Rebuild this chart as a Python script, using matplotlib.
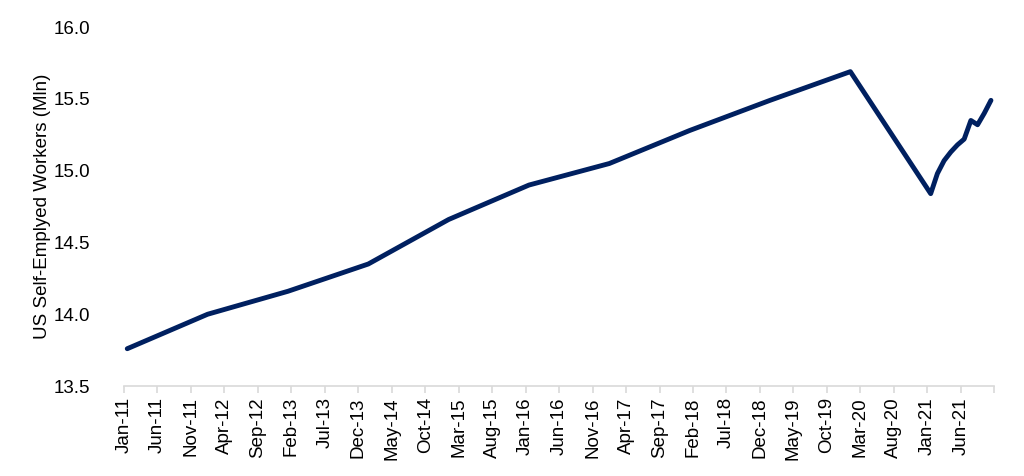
import matplotlib
matplotlib.use("Agg")
import matplotlib.pyplot as plt
import numpy as np

plt.rcParams['font.family'] = ['Liberation Sans', 'DejaVu Sans']

# month index from Jan-11 (0) and self-employed workers (mln)
months = [0, 12, 24, 36, 48, 60, 72, 84, 96, 108,
          120, 121, 122, 123, 124, 125, 126, 127, 128, 129]
workers = [13.76, 14.00, 14.16, 14.35, 14.66, 14.90, 15.05, 15.28, 15.49, 15.69,
           14.84, 14.98, 15.07, 15.13, 15.18, 15.22, 15.35, 15.32, 15.40, 15.49]

tick_months = list(range(0, 131, 5))
tick_labels = ["Jan-11", "Jun-11", "Nov-11", "Apr-12", "Sep-12", "Feb-13", "Jul-13",
               "Dec-13", "May-14", "Oct-14", "Mar-15", "Aug-15", "Jan-16", "Jun-16",
               "Nov-16", "Apr-17", "Sep-17", "Feb-18", "Jul-18", "Dec-18", "May-19",
               "Oct-19", "Mar-20", "Aug-20", "Jan-21", "Jun-21", ""]

fig = plt.figure(figsize=(10.24, 4.76), dpi=100)
ax = fig.add_axes([0.121, 0.189, 0.850, 0.754])

x = np.array(months) + 0.5
ax.plot(x, workers, color="#002060", lw=3.5, solid_capstyle="round", solid_joinstyle="round")

ax.set_xlim(0, 130)
ax.set_ylim(13.5, 16.0)
ax.set_yticks(np.arange(13.5, 16.01, 0.5))
ax.set_yticklabels([f"{v:.1f}" for v in np.arange(13.5, 16.01, 0.5)])
ax.set_xticks(tick_months)
ax.set_xticklabels(tick_labels, rotation=90)

for s in ["top", "right", "left"]:
    ax.spines[s].set_visible(False)
ax.spines["bottom"].set_color("#D9D9D9")
ax.spines["bottom"].set_linewidth(1.2)
ax.tick_params(axis="x", colors="#D9D9D9", labelcolor="black", length=5, width=1.2,
               labelsize=13.5, pad=3)
ax.tick_params(axis="y", length=0, labelsize=13.5, pad=24)

ax.set_ylabel("US Self-Emplyed Workers (Mln)", fontsize=13.5, labelpad=2)

fig.savefig("out.png", dpi=100)
